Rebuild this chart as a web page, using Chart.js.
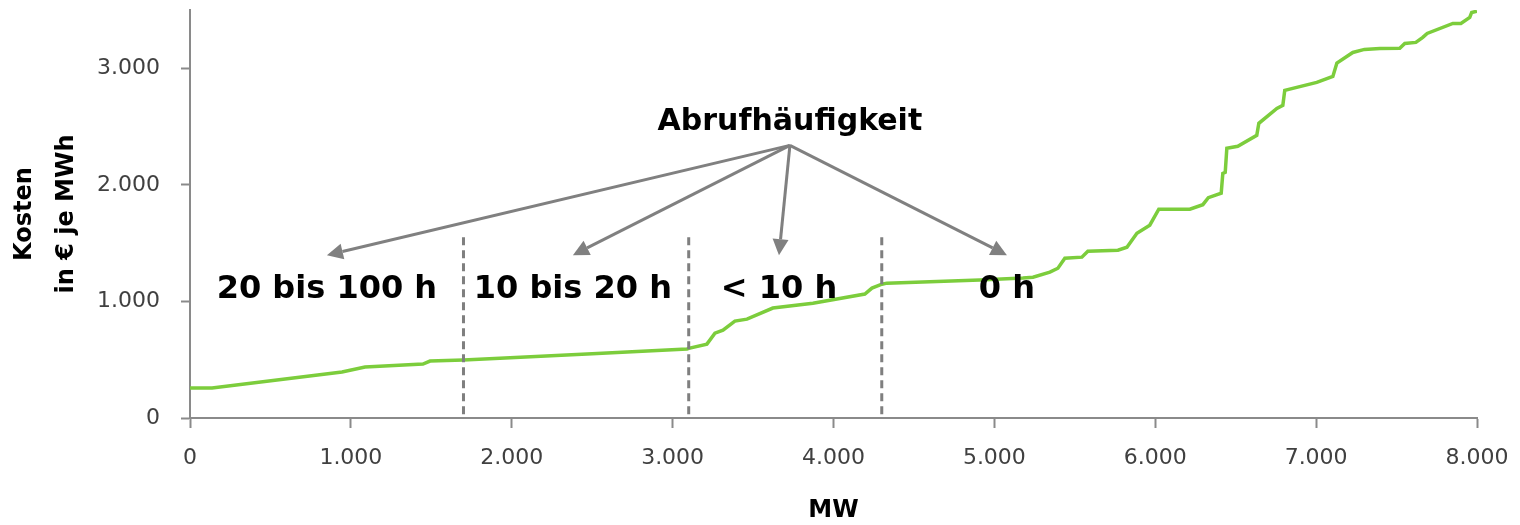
<!DOCTYPE html>
<html>
<head>
<meta charset="utf-8">
<script src="https://cdn.jsdelivr.net/npm/chart.js@4.4.1/dist/chart.umd.min.js"></script>
<style>
  html, body { margin: 0; padding: 0; background: #fff; }
  #wrap { width: 1520px; height: 525px; position: relative; }
</style>
</head>
<body>
<div id="wrap"><canvas id="chart-cost"></canvas></div>
<script>
// merit order curve: capacity (MW) and cost (EUR per MWh)
const mw = [0, 137, 945, 1088, 1448, 1492, 1700, 1958, 2500, 3089, 3100, 3213, 3263, 3313, 3387, 3462,
  3623, 3872, 4195, 4239, 4301, 4332, 4910, 5177, 5240, 5345, 5395, 5438, 5544, 5581, 5768, 5824,
  5886, 5966, 6022, 6215, 6296, 6330, 6410, 6420, 6435, 6445, 6513, 6631, 6644, 6756, 6793, 6805,
  7004, 7104, 7129, 7228, 7300, 7396, 7520, 7551, 7620, 7663, 7690, 7850, 7900, 7955, 7967, 8000];
const cost = [257, 257, 394, 437, 463, 488, 497, 514, 552, 591, 598, 634, 728, 754, 831, 848,
  943, 985, 1063, 1114, 1148, 1157, 1183, 1200, 1208, 1251, 1285, 1371, 1380, 1431, 1440, 1465,
  1585, 1654, 1791, 1791, 1830, 1890, 1928, 2099, 2108, 2314, 2331, 2425, 2528, 2656, 2682, 2811,
  2879, 2930, 3045, 3136, 3162, 3170, 3172, 3213, 3222, 3265, 3299, 3385, 3385, 3436, 3479, 3490];

// y axis runs to 3.500 but only the full thousands get a tick
const yMax = 3500;
const yTicks = [0, 1000, 2000, 3000];

// band dividers and labels (Abrufhäufigkeit)
const dividerMW = [1700, 3100, 4300];
const dividerTopCost = 1550;
const bandLabels = ['20 bis 100 h', '10 bis 20 h', '< 10 h', '0 h'];
const bandMW = [851, 2380, 3661, 5078];
const bandLabelCost = 1028;
const arrowTipCost = 1397;
const headerText = 'Abrufhäufigkeit';
const headerMW = 3729;
const headerCost = 2468;
const arrowOriginCost = 2339;

const fmt = v => String(v).replace(/\B(?=(\d{3})+(?!\d))/g, '.');
const axisGrey = '#8a8a8a';

const annotations = {
  id: 'annotations',
  afterDatasetsDraw(chart) {
    const ctx = chart.ctx, x = chart.scales.x, y = chart.scales.y;
    ctx.save();
    // dashed dividers
    ctx.strokeStyle = '#7f7f7f';
    ctx.lineWidth = 3;
    ctx.setLineDash([8, 5]);
    dividerMW.forEach(v => {
      ctx.beginPath();
      ctx.moveTo(x.getPixelForValue(v), y.getPixelForValue(dividerTopCost));
      ctx.lineTo(x.getPixelForValue(v), y.getPixelForValue(0));
      ctx.stroke();
    });
    ctx.setLineDash([]);

    // arrows
    const ox = x.getPixelForValue(headerMW), oy = y.getPixelForValue(arrowOriginCost);
    ctx.fillStyle = '#808080';
    ctx.strokeStyle = '#808080';
    bandMW.forEach(v => {
      const tx = x.getPixelForValue(v), ty = y.getPixelForValue(arrowTipCost);
      const dx = tx - ox, dy = ty - oy, len = Math.hypot(dx, dy);
      const ux = dx / len, uy = dy / len, head = 16, half = 8;
      ctx.beginPath();
      ctx.moveTo(ox, oy);
      ctx.lineTo(tx - ux * head, ty - uy * head);
      ctx.stroke();
      ctx.beginPath();
      ctx.moveTo(tx, ty);
      ctx.lineTo(tx - ux * head - uy * half, ty - uy * head + ux * half);
      ctx.lineTo(tx - ux * head + uy * half, ty - uy * head - ux * half);
      ctx.closePath();
      ctx.fill();
    });

    // texts
    ctx.fillStyle = '#000';
    ctx.textAlign = 'center';
    ctx.textBaseline = 'alphabetic';
    ctx.font = 'bold 30px "DejaVu Sans"';
    ctx.fillText(headerText, x.getPixelForValue(headerMW), y.getPixelForValue(headerCost));
    ctx.font = 'bold 32px "DejaVu Sans"';
    bandLabels.forEach((t, i) => {
      ctx.fillText(t, x.getPixelForValue(bandMW[i]), y.getPixelForValue(bandLabelCost));
    });
    ctx.restore();
  }
};

const tickFont = { family: '"DejaVu Sans"', size: 22 };

new Chart(document.getElementById('chart-cost'), {
  type: 'line',
  data: {
    datasets: [{
      data: mw.map((v, i) => ({ x: v, y: cost[i] })),
      borderColor: '#7ccd3c',
      borderWidth: 3.5,
      pointRadius: 0,
      tension: 0,
      fill: false
    }]
  },
  options: {
    responsive: true,
    maintainAspectRatio: false,
    animation: false,
    layout: { padding: { top: 10, right: 43, left: 0, bottom: 0 } },
    plugins: { legend: { display: false }, tooltip: { enabled: false } },
    scales: {
      x: {
        type: 'linear',
        min: 0,
        max: 8000,
        afterFit: s => { s.height = 107; s.paddingLeft = 0; s.paddingRight = 0; },
        ticks: { stepSize: 1000, callback: fmt, font: tickFont, color: '#404040', padding: 17, maxRotation: 0 },
        grid: { drawOnChartArea: false, tickLength: 10, tickColor: axisGrey, tickWidth: 2 },
        border: { color: axisGrey, width: 2 },
        title: {
          display: true, text: 'MW', color: '#000',
          font: { family: '"DejaVu Sans"', size: 24, weight: 'bold' },
          padding: { top: 0, bottom: 0 }
        }
      },
      y: {
        type: 'linear',
        min: 0,
        max: yMax,
        afterBuildTicks: s => { s.ticks = yTicks.map(v => ({ value: v })); },
        afterFit: s => { s.width = 190; s.paddingTop = 0; s.paddingBottom = 0; },
        ticks: { autoSkip: false, callback: fmt, font: tickFont, color: '#404040', padding: 21 },
        grid: { drawOnChartArea: false, tickLength: 9, tickWidth: 2, tickColor: axisGrey },
        border: { color: axisGrey, width: 2 },
        title: {
          display: true, text: ['Kosten', 'in € je MWh'], color: '#000',
          font: { family: '"DejaVu Sans"', size: 24, weight: 'bold', lineHeight: 1.75 },
          padding: { top: 4, bottom: 0 }
        }
      }
    }
  },
  plugins: [annotations]
});
</script>
</body>
</html>
